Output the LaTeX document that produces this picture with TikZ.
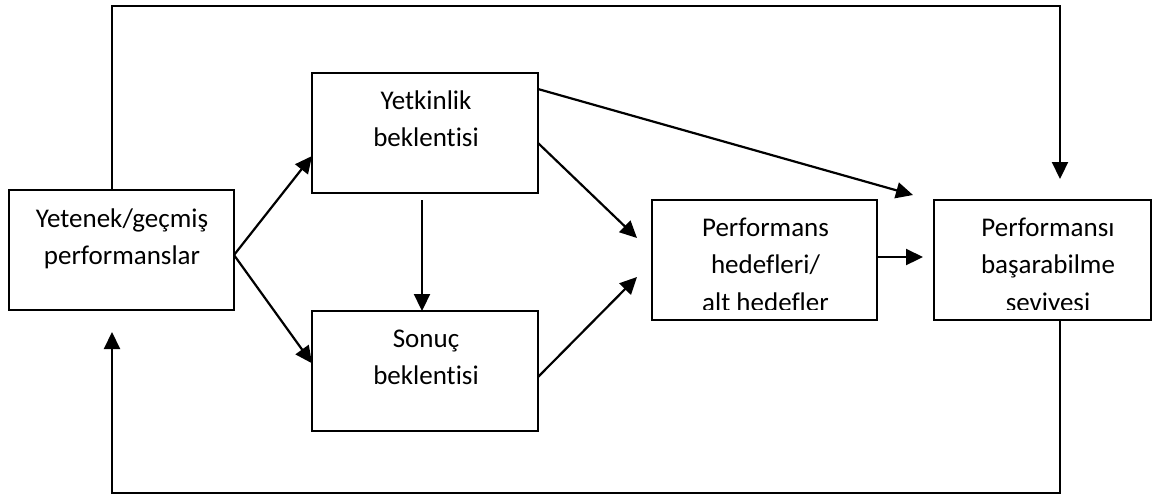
\documentclass[tikz,border=0pt]{standalone}
\usepackage{fontspec}
\setmainfont{Carlito}[Ligatures=NoCommon]
\usetikzlibrary{arrows.meta,calc}
\begin{document}
\begin{tikzpicture}[x=0.5pt,y=-0.5pt,
  box/.style={draw,line width=1.1pt,inner sep=0pt,outer sep=0pt,minimum height=60pt},
  txt/.style={inner sep=0pt,anchor=base,font=\fontsize{13.5}{18.5}\selectfont},
  arr/.style={line width=1.1pt,-{Triangle[length=8.5pt,width=8pt]}}]
\useasboundingbox (0,0) rectangle (1152,495);
% boxes
\node[box,minimum width=112.5pt] (L) at (121.5,250) {};
\node[box,minimum width=113pt] (Y) at (425,133) {};
\node[box,minimum width=113pt] (S) at (425,371) {};
\node[box,minimum width=112.5pt] (P) at (764.5,260) {};
\node[box,minimum width=108.5pt] (B) at (1042.5,260) {};
% texts
\node[txt] (L1) at ($(L.north)+(0.5,37)$) {Yetenek/geçmiş};
\node[txt] (L2) at ($(L.north)+(0.5,74)$) {performanslar};
\node[txt] (Y1) at ($(Y.north)+(1,36.5)$) {Yetkinlik};
\node[txt] (Y2) at ($(Y.north)+(1,73.5)$) {beklentisi};
\node[txt] (S1) at ($(S.north)+(1,36.5)$) {Sonuç};
\node[txt] (S2) at ($(S.north)+(1,73.5)$) {beklentisi};
\begin{scope}
\clip ($(P.north west)+(1,1)$) rectangle ($(P.south east)+(-1,-11)$);
\node[txt] (P1) at ($(P.north)+(1,36)$) {Performans};
\node[txt] (P2) at ($(P.north)+(1,73)$) {hedefleri/};
\node[txt] (P3) at ($(P.north)+(1,111)$) {alt hedefler};
\end{scope}
\begin{scope}
\clip ($(B.north west)+(1,1)$) rectangle ($(B.south east)+(-1,-11)$);
\node[txt] (B1) at ($(B.north)+(5.5,36)$) {Performansı};
\node[txt] (B2) at ($(B.north)+(5.5,73)$) {başarabilme};
\node[txt] (B3) at ($(B.north)+(5.5,111)$) {seviyesi};
\end{scope}
% loop coordinates
\coordinate (tl) at (112,6);
\coordinate (tr) at (1060,6);
\coordinate (bl) at (112,493);
\coordinate (br) at (1060,493);
% connectors
\draw[arr] ($(L.east)+(0,5)$) -- ($(Y.west)+(0,23)$);
\draw[arr] ($(L.east)+(0,5)$) -- ($(S.west)+(0,-7.7)$);
\draw[arr] ($(Y.south)+(-3,7)$) -- ($(S.north)+(-3,0)$);
\draw[arr] ($(Y.east)+(0,10)$) -- ($(P.west)+(-15,-22)$);
\draw[arr] ($(S.east)+(0,6)$) -- ($(P.west)+(-15,17)$);
\draw[arr] ($(Y.east)+(0,-44)$) -- ($(B.north west)+(-21,-5)$);
\draw[arr] ($(P.east)+(0,-3)$) -- ($(B.west)+(-11,-3)$);
\draw[arr,line join=miter] ($(L.north)+(-9.5,0)$) -- (tl) -- (tr) -- ($(B.north)+(17.5,-21)$);
\draw[arr,line join=miter] ($(B.south)+(17.5,0)$) -- (br) -- (bl) -- ($(L.south)+(-9.5,22)$);
\end{tikzpicture}
\end{document}
